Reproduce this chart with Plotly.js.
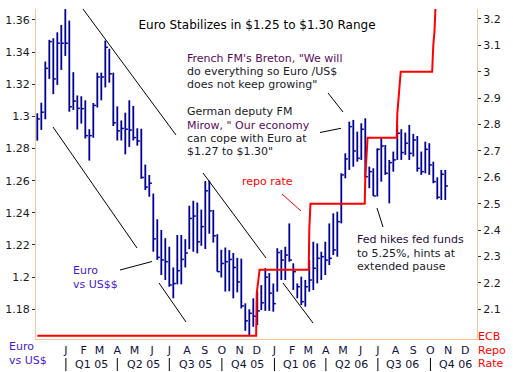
<!DOCTYPE html>
<html><head><meta charset="utf-8">
<script src="https://cdn.plot.ly/plotly-3.0.1.min.js"></script>
<style>html,body{margin:0;padding:0;background:#fff}#chart{width:513px;height:372px}</style>
</head><body><div id="chart"></div>
<script>
// Weekly EUR/USD bars (Friday dates)
const weeks = ['2004-11-12','2004-11-19','2004-11-26','2004-12-03','2004-12-10','2004-12-17','2004-12-24','2004-12-31',
'2005-01-07','2005-01-14','2005-01-21','2005-01-28','2005-02-04','2005-02-11','2005-02-18','2005-02-25',
'2005-03-04','2005-03-11','2005-03-18','2005-03-25','2005-04-01','2005-04-08','2005-04-15','2005-04-22','2005-04-29',
'2005-05-06','2005-05-13','2005-05-20','2005-05-27','2005-06-03','2005-06-10','2005-06-17','2005-06-24',
'2005-07-01','2005-07-08','2005-07-15','2005-07-22','2005-07-29','2005-08-05','2005-08-12','2005-08-19','2005-08-26',
'2005-09-02','2005-09-09','2005-09-16','2005-09-23','2005-09-30','2005-10-07','2005-10-14','2005-10-21','2005-10-28',
'2005-11-04','2005-11-11','2005-11-18','2005-11-25','2005-12-02','2005-12-09','2005-12-16','2005-12-23','2005-12-30',
'2006-01-06','2006-01-13','2006-01-20','2006-01-27','2006-02-03','2006-02-10','2006-02-17','2006-02-24',
'2006-03-03','2006-03-10','2006-03-17','2006-03-24','2006-03-31','2006-04-07','2006-04-14','2006-04-21','2006-04-28',
'2006-05-05','2006-05-12','2006-05-19','2006-05-26','2006-06-02','2006-06-09','2006-06-16','2006-06-23','2006-06-30',
'2006-07-07','2006-07-14','2006-07-21','2006-07-28','2006-08-04','2006-08-11','2006-08-18','2006-08-25',
'2006-09-01','2006-09-08','2006-09-15','2006-09-22','2006-09-29','2006-10-06','2006-10-13','2006-10-20','2006-10-27'];
const euroHigh = [1.3019,1.3085,1.3341,1.3476,1.3486,1.3523,1.3569,1.3667,
1.3596,1.3275,1.3130,1.3125,1.3100,1.2920,1.3083,1.3272,
1.3272,1.3472,1.3420,1.3272,1.3062,1.2975,1.3023,1.3100,1.3065,
1.2926,1.2923,1.2700,1.2635,1.2520,1.2360,1.2293,1.2242,
1.2189,1.2060,1.2262,1.2262,1.2236,1.2444,1.2475,1.2464,1.2420,
1.2598,1.2600,1.2418,1.2267,1.2170,1.2184,1.2168,1.2150,1.2120,
1.2115,1.1837,1.1800,1.1868,1.1910,1.1950,1.2055,1.2025,1.1960,
1.2180,1.2169,1.2189,1.2334,1.2086,1.1961,1.2003,1.1982,
1.2106,1.2220,1.2210,1.2158,1.2220,1.2334,1.2397,1.2407,1.2646,
1.2770,1.2967,1.2978,1.2905,1.2957,1.2988,1.2687,1.2677,1.2801,
1.2870,1.2822,1.2729,1.2781,1.2947,1.2920,1.2899,1.2947,
1.2891,1.2878,1.2781,1.2843,1.2833,1.2718,1.2621,1.2667,1.2667];
const euroLow = [1.2849,1.2916,1.2982,1.3233,1.3138,1.3196,1.3289,1.3376,
1.3029,1.3040,1.2918,1.2955,1.2862,1.2725,1.2867,1.3055,
1.3100,1.3180,1.3210,1.2940,1.2850,1.2850,1.2764,1.2810,1.2850,
1.2818,1.2612,1.2542,1.2500,1.2158,1.2107,1.2013,1.1982,
1.1940,1.1868,1.1955,1.1955,1.2060,1.2174,1.2158,1.2148,1.2195,
1.2175,1.2270,1.2215,1.2034,1.1998,1.1910,1.1912,1.1868,1.1905,
1.1805,1.1666,1.1640,1.1691,1.1702,1.1795,1.1790,1.1790,1.1785,
1.1909,1.1982,1.1982,1.2096,1.1920,1.1868,1.1826,1.1816,
1.1909,1.1920,1.1961,1.1982,1.2013,1.2075,1.2137,1.2127,1.2334,
1.2615,1.2667,1.2687,1.2718,1.2729,1.2615,1.2553,1.2505,1.2501,
1.2594,1.2636,1.2459,1.2656,1.2729,1.2729,1.2760,1.2729,
1.2750,1.2656,1.2636,1.2646,1.2636,1.2584,1.2484,1.2480,1.2480];
const euroClose = [1.2984,1.3026,1.3299,1.3465,1.3233,1.3455,1.3455,1.3455,
1.3060,1.3095,1.3050,1.3048,1.2880,1.2880,1.3068,1.3245,
1.3245,1.3430,1.3265,1.2960,1.2910,1.2925,1.2920,1.2915,1.2868,
1.2847,1.2620,1.2560,1.2584,1.2238,1.2123,1.2107,1.2096,
1.1951,1.1960,1.2040,1.2110,1.2150,1.2365,1.2380,1.2220,1.2314,
1.2537,1.2412,1.2257,1.2034,1.2085,1.2096,1.2110,1.2060,1.1970,
1.1821,1.1728,1.1775,1.1757,1.1790,1.1840,1.2000,1.1900,1.1835,
1.2153,1.2106,1.2137,1.2106,1.2034,1.1940,1.1847,1.1940,
1.1982,1.2055,1.2117,1.2127,1.2106,1.2117,1.2169,1.2345,1.2636,
1.2735,1.2936,1.2785,1.2739,1.2920,1.2625,1.2656,1.2505,1.2795,
1.2816,1.2646,1.2712,1.2729,1.2895,1.2775,1.2833,1.2770,
1.2853,1.2677,1.2656,1.2795,1.2698,1.2594,1.2497,1.2640,1.2567];

// ECB repo rate
const repoDates = ['2004-11-12','2005-11-30','2005-12-01','2005-12-06','2006-03-02','2006-03-03','2006-03-05',
'2006-06-08','2006-06-09','2006-06-13','2006-08-03','2006-08-04','2006-08-10','2006-10-04','2006-10-06','2006-10-08','2006-10-10','2006-10-27'];
const repoRate = [2.0,2.0,2.16,2.25,2.25,2.40,2.5,2.5,2.6,2.75,2.75,2.84,3.0,3.0,3.1,3.15,3.25,3.25];

const monthTicks = ['2005-01-01','2005-02-01','2005-03-01','2005-04-01','2005-05-01','2005-06-01','2005-07-01','2005-08-01',
'2005-09-01','2005-10-01','2005-11-01','2005-12-01','2006-01-01','2006-02-01','2006-03-01','2006-04-01','2006-05-01',
'2006-06-01','2006-07-01','2006-08-01','2006-09-01','2006-10-01','2006-11-01','2006-12-01'];
const monthLetters = ['J','F','M','A','M','J','J','A','S','O','N','D','J','F','M','A','M','J','J','A','S','O','N','D'];
const quarterNames = ['Q1 05','Q2 05','Q3 05','Q4 05','Q1 06','Q2 06','Q3 06','Q4 06'];
const quarterMids = ['2005-02-14','2005-05-16','2005-08-15','2005-11-14','2006-02-13','2006-05-16','2006-08-13','2006-11-14'];
const quarterStarts = ['2005-01-01','2005-04-01','2005-07-01','2005-10-01','2006-01-01','2006-04-01','2006-07-01','2006-10-01'];
const euroTicks = [1.18,1.2,1.22,1.24,1.26,1.28,1.3,1.32,1.34,1.36];
const euroTickText = ['1.18','1.2','1.22','1.24','1.26','1.28','1.3','1.32','1.34','1.36'];
const repoTicks = [2.1,2.2,2.3,2.4,2.5,2.6,2.7,2.8,2.9,3.0,3.1,3.2];
const repoTickText = ['2.1','2.2','2.3','2.4','2.5','2.6','2.7','2.8','2.9','3','3.1','3.2'];

const FONT = 'DejaVu Sans, Verdana, sans-serif';
const barColor = '#000099';

function shiftDays(d, n){ const t = new Date(d+'T00:00:00Z').getTime() + n*864e5; return new Date(t).toISOString().slice(0,19).replace('T',' '); }

const bx=[], by=[], tx=[], ty=[];
weeks.forEach((d,i)=>{
  bx.push(d,d,null); by.push(euroLow[i],euroHigh[i],null);
  tx.push(d, shiftDays(d,4.5), null); ty.push(euroClose[i],euroClose[i],null);
});

const traces = [
  {x:bx,y:by,type:'scatter',mode:'lines',line:{color:barColor,width:1.8},hoverinfo:'skip',showlegend:false,connectgaps:false},
  {x:tx,y:ty,type:'scatter',mode:'lines',line:{color:barColor,width:1.5},hoverinfo:'skip',showlegend:false,connectgaps:false},
  {x:repoDates,y:repoRate,type:'scatter',mode:'lines',yaxis:'y2',line:{color:'#ff0000',width:2},showlegend:false}
];

// pixel -> paper helpers (plot area: x 36..477, y 9..339)
const L=36, R=477, T=9, B=339;
const px = x => (x-L)/(R-L);
const py = y => (B-y)/(B-T);

const shapes = [];
function seg(x0,y0,x1,y1,color){ shapes.push({type:'line',xref:'paper',yref:'paper',x0:px(x0),y0:py(y0),x1:px(x1),y1:py(y1),line:{color:color||'#000',width:1}}); }
seg(83,9,176,135); seg(53,127,137,248); seg(120,270,152,261.5); seg(159,283,186,322);
seg(203,173,266,258); seg(283,283,313,323); seg(282,194,301,211,'#ff0000');
seg(328,93,343,112); seg(320,132.5,341,128.3); seg(377,208,383,227);
quarterStarts.forEach(d=>shapes.push({type:'line',xref:'x',yref:'paper',x0:d,x1:d,y0:py(358),y1:py(371),line:{color:'#000',width:1}}));

const annotations = [];
function txt(s,x,y,color,size,anchor){ annotations.push({text:s,xref:'paper',yref:'paper',x:px(x),y:py(y),xanchor:anchor||'left',yanchor:'middle',showarrow:false,borderpad:0,font:{family:FONT,size:size||11,color:color}}); }
const purple='#5a0a5a', dark='#1a1a2a', violet='#4a1ad0', red='#ff0000';
txt("French FM's Breton, \"We will",186,58.5,purple);
txt("do everything so Euro /US$",186,71.5,dark);
txt("does not keep growing\"",186,84.5,dark);
txt("German deputy FM",186,111.5,dark);
txt("Mirow, \" Our economy",186,125,purple);
txt("can cope with Euro at",186,138,dark);
txt("$1.27 to $1.30\"",186,151.5,dark);
txt("repo rate",241,181.5,red);
txt("Fed hikes fed funds",356,240,'#2a0a3a');
txt("to 5.25%, hints at",356,253,dark);
txt("extended pause",356,266,dark);
txt("Euro",72,270.5,violet);
txt("vs US$$",72,284,violet);
txt("Euro",8,346.5,violet);
txt("vs US$",8,360,violet);
txt("ECB",477,336.5,red);
txt("Repo",477,350.5,red);
txt("Rate",477,363.5,red);
quarterNames.forEach((q,i)=>annotations.push({text:q,xref:'x',yref:'paper',x:quarterMids[i],y:py(364),xanchor:'center',yanchor:'middle',showarrow:false,borderpad:0,font:{family:FONT,size:11,color:'#111133'}}));

const axisColor = '#f8c594';
const layout = {
  width:513,height:372,margin:{l:L,r:513-R,t:T,b:372-B,pad:0},
  paper_bgcolor:'#fff',plot_bgcolor:'#fff',showlegend:false,
  title:{text:'Euro Stabilizes in $1.25 to $1.30 Range',x:257/513,xanchor:'center',y:1-24.5/372,yanchor:'middle',font:{family:FONT,size:12,color:'#000'}},
  xaxis:{type:'date',range:['2004-11-09 17:00','2006-12-21 12:00'],tickvals:monthTicks,ticktext:monthLetters,
    showgrid:false,zeroline:false,showline:true,linecolor:axisColor,linewidth:1,ticks:'outside',ticklen:1,tickcolor:'rgba(0,0,0,0)',
    tickfont:{family:FONT,size:11,color:'#111144'},tickangle:0},
  yaxis:{range:[1.1615,1.3668],tickvals:euroTicks,ticktext:euroTickText,showgrid:false,zeroline:false,showline:true,
    linecolor:axisColor,linewidth:1,ticks:'outside',ticklen:3,tickcolor:'#333',tickfont:{family:FONT,size:11,color:'#1a1a1a'}},
  yaxis2:{overlaying:'y',side:'right',range:[1.9875,3.2375],tickvals:repoTicks,ticktext:repoTickText,showgrid:false,zeroline:false,
    showline:true,linecolor:axisColor,linewidth:1,ticks:'outside',ticklen:3,tickcolor:'#333',tickfont:{family:FONT,size:11,color:'#1a1a1a'}},
  shapes:shapes,annotations:annotations
};
Plotly.newPlot('chart',traces,layout,{displayModeBar:false,staticPlot:true});
</script></body></html>
